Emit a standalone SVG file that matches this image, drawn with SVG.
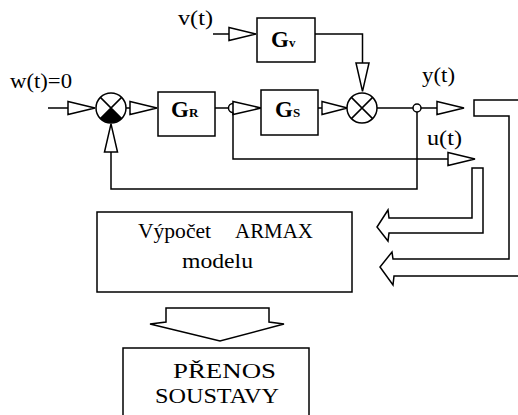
<svg xmlns="http://www.w3.org/2000/svg" width="518" height="415" viewBox="0 0 518 415">
<style>
.ln{fill:none;stroke:#000;stroke-width:1.5}
.tri{fill:#fff;stroke:#000;stroke-width:1.5}
.box{fill:#fff;stroke:#000;stroke-width:1.5}
text{font-family:'Liberation Serif','DejaVu Serif',serif;fill:#000}
.t{font-size:20px}
.b{font-size:22px}
.g{font-weight:bold;font-size:23px}
.s{font-size:13px}
</style>
<defs>
<path id="tr" class="tri" d="M0,-6.5 L27,0 L0,6.5 Z"/>
</defs>
<rect width="518" height="415" fill="#fff"/>
<g id="connectors">
<path class="ln" d="M48,108 H68"/>
<use href="#tr" x="68" y="108"/>
<path class="ln" d="M126,108 H130"/>
<use href="#tr" x="130" y="108"/>
<path class="ln" d="M215,108 H229"/>
<circle class="ln" cx="233" cy="108" r="4.5"/>
<use href="#tr" x="233" y="108" transform="translate(233,108) scale(1.04,1) translate(-233,-108)"/>
<path class="ln" d="M318,108 H322"/>
<use href="#tr" x="322" y="108" transform="translate(322,108) scale(0.94,1) translate(-322,-108)"/>
<path class="ln" d="M377,108 H437"/>
<circle class="tri" cx="417" cy="108" r="4"/>
<use href="#tr" x="437" y="108"/>
<path class="ln" d="M213,34 H229"/>
<use href="#tr" x="229" y="34"/>
<path class="ln" d="M315,34 H362.5 V63"/>
<use href="#tr" transform="translate(362.5,63) rotate(90) scale(1.05,1)"/>
<path class="ln" d="M233,112.5 V159 H448"/>
<use href="#tr" x="448" y="159"/>
<path class="ln" d="M417,112 V189 H111 V152"/>
<use href="#tr" transform="translate(111,152) rotate(-90) scale(1.04,1)"/>
<polygon class="tri" points="472,168 483,168 483,233 389,233 388,241 377,227 388,210 389,218 472,218"/>
<polygon class="tri" points="474,100 530,100 530,276 394,276 393,285 380,267 392,252 393,259 509,259 509,116 474,116"/>
<polygon class="tri" points="166,308 269,308 269,322 284,324 220,341 150,324 166,322"/>
</g>
<g id="labels">
<text class="t" x="10" y="88" textLength="62" lengthAdjust="spacingAndGlyphs">w(t)=0</text>
<text class="t" x="178" y="25" textLength="35" lengthAdjust="spacingAndGlyphs">v(t)</text>
<text class="t" x="422" y="82" textLength="33" lengthAdjust="spacingAndGlyphs">y(t)</text>
<text class="t" x="427" y="145" textLength="35" lengthAdjust="spacingAndGlyphs">u(t)</text>
</g>
<g id="sum1">
<circle class="tri" cx="111" cy="108" r="15"/>
<path d="M111,108 L100.4,118.6 A15,15 0 0 0 121.6,118.6 Z" fill="#000"/>
<path class="ln" d="M100.4,97.4 L121.6,118.6 M121.6,97.4 L100.4,118.6"/>
</g>
<g id="sum2">
<circle class="tri" cx="362" cy="108" r="15"/>
<path class="ln" d="M351.4,97.4 L372.6,118.6 M372.6,97.4 L351.4,118.6"/>
</g>
<g id="GR">
<rect class="box" x="158" y="92" width="57" height="44"/>
<text class="g" x="171" y="117">G<tspan class="s">R</tspan></text>
</g>
<g id="GS">
<rect class="box" x="261" y="90" width="57" height="45"/>
<text class="g" x="275" y="117">G<tspan class="s">S</tspan></text>
</g>
<g id="Gv">
<rect class="box" x="257" y="18" width="58" height="44"/>
<text class="g" x="271" y="47">G<tspan class="s">v</tspan></text>
</g>
<g id="armax">
<rect class="box" x="97" y="212" width="255" height="80"/>
<text class="b" y="238"><tspan x="138" textLength="73" lengthAdjust="spacingAndGlyphs">Výpočet</tspan><tspan x="235" textLength="78" lengthAdjust="spacingAndGlyphs">ARMAX</tspan></text>
<text class="b" x="182" y="268" textLength="71" lengthAdjust="spacingAndGlyphs">modelu</text>
</g>
<g id="prenos">
<rect class="box" x="123" y="348" width="186" height="90"/>
<text class="b" x="173" y="378" textLength="103" lengthAdjust="spacingAndGlyphs">PŘENOS</text>
<text class="b" x="155" y="403" textLength="124" lengthAdjust="spacingAndGlyphs">SOUSTAVY</text>
</g>
</svg>
